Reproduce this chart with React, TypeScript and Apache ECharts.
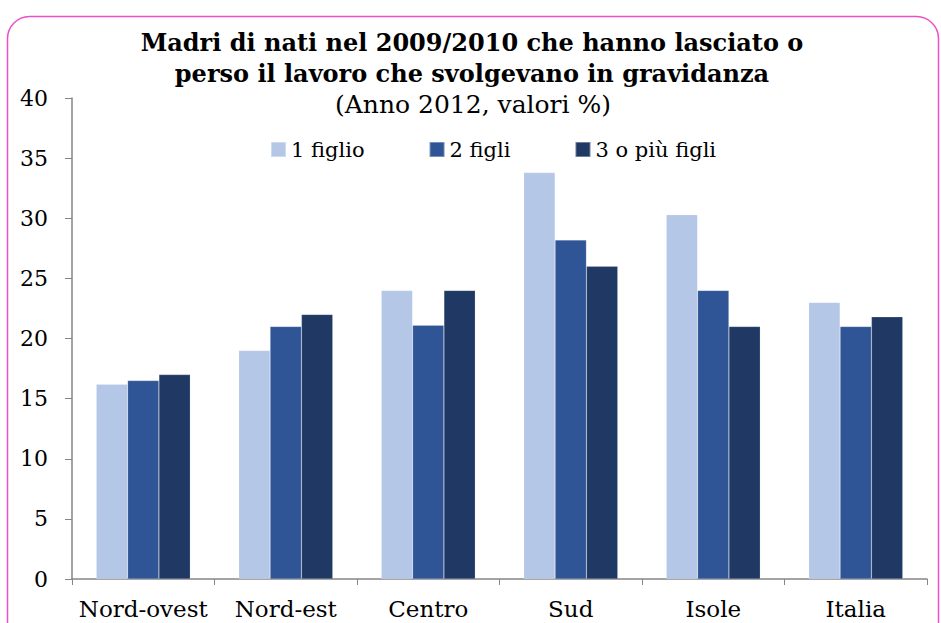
import React, { useEffect, useRef } from "react";
import * as echarts from "echarts";

const categories = ["Nord-ovest", "Nord-est", "Centro", "Sud", "Isole", "Italia"];
const seriesNames = ["1 figlio", "2 figli", "3 o più figli"];
const unFiglio = [16.2, 19.0, 24.0, 33.8, 30.3, 23.0];
const dueFigli = [16.5, 21.0, 21.1, 28.2, 24.0, 21.0];
const treOPiu = [17.0, 22.0, 24.0, 26.0, 21.0, 21.8];
const colors = ["#B4C7E7", "#2F5597", "#203864"];

const FONT = "'DejaVu Serif', 'Liberation Serif', serif";

export default function App() {
  const ref = useRef<HTMLDivElement>(null);
  useEffect(() => {
    if (!ref.current) return;
    const chart = echarts.init(ref.current, null, { renderer: "svg" });
    const values = [unFiglio, dueFigli, treOPiu];
    chart.setOption({
      animation: false,
      textStyle: { fontFamily: FONT },
      graphic: [
        {
          type: "rect",
          shape: { x: 7.5, y: 16.5, width: 931, height: 660, r: 22 },
          style: { fill: "none", stroke: "#EC4FC8", lineWidth: 1.5 },
          silent: true,
        },
        {
          type: "text",
          x: 472,
          y: 42,
          style: {
            text: "Madri di nati nel 2009/2010 che hanno lasciato o",
            font: "bold 24px " + FONT,
            fill: "#000",
            align: "center",
            verticalAlign: "middle",
          },
        },
        {
          type: "text",
          x: 472,
          y: 73,
          style: {
            text: "perso il lavoro che svolgevano in gravidanza",
            font: "bold 24px " + FONT,
            fill: "#000",
            align: "center",
            verticalAlign: "middle",
          },
        },
        {
          type: "text",
          x: 473,
          y: 104,
          style: {
            text: "(Anno 2012, valori %)",
            font: "25px " + FONT,
            fill: "#000",
            align: "center",
            verticalAlign: "middle",
          },
        },
      ],
      legend: {
        top: 134,
        left: 265,
        itemWidth: 15,
        itemHeight: 15,
        itemGap: 64,
        icon: "rect",
        textStyle: { fontFamily: FONT, fontSize: 21, color: "#000" },
        data: seriesNames,
      },
      grid: { left: 72, right: 14, top: 98, bottom: 44 },
      xAxis: {
        type: "category",
        data: categories,
        axisLine: { lineStyle: { color: "#868686", width: 1.5 } },
        axisTick: { show: true, length: 6, lineStyle: { color: "#868686" } },
        axisLabel: { fontFamily: FONT, fontSize: 23, color: "#000", margin: 18, interval: 0 },
      },
      yAxis: {
        type: "value",
        min: 0,
        max: 40,
        interval: 5,
        axisLine: { show: true, lineStyle: { color: "#868686", width: 1.5 } },
        axisTick: { show: true, length: 7, lineStyle: { color: "#868686" } },
        splitLine: { show: false },
        axisLabel: { fontFamily: FONT, fontSize: 22, color: "#000", margin: 24 },
      },
      series: seriesNames.map((name, i) => ({
        name,
        type: "bar",
        data: values[i],
        barGap: "0%",
        barCategoryGap: "34%",
        itemStyle: { color: colors[i], borderColor: "rgba(255,255,255,0.35)", borderWidth: 0.5 },
      })),
    });
    return () => chart.dispose();
  }, []);
  return <div ref={ref} style={{ width: 941, height: 623, position: "absolute", left: 0, top: 0 }} />;
}
